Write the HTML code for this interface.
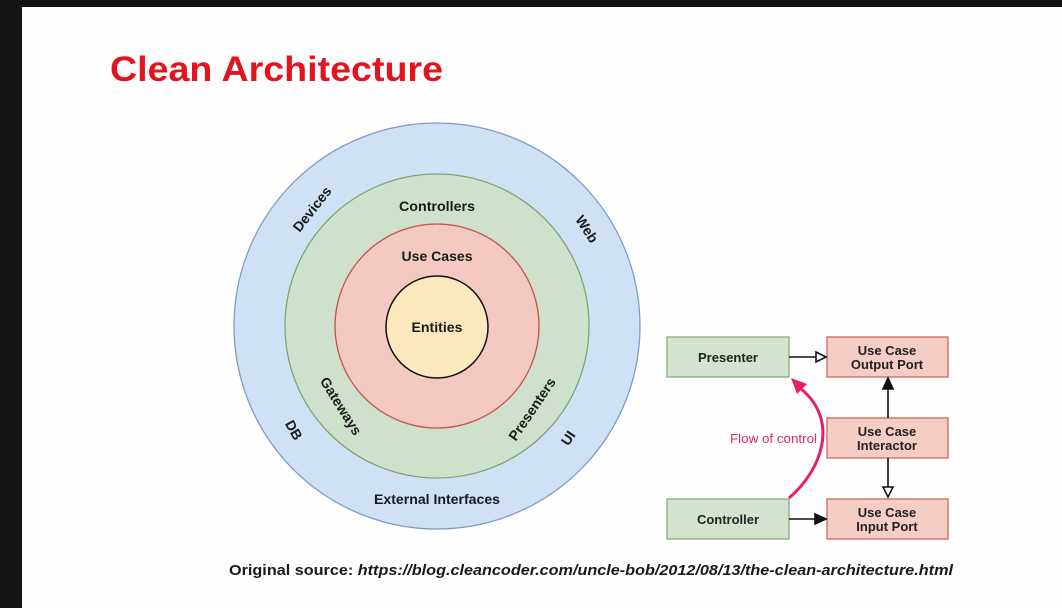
<!DOCTYPE html>
<html><head><meta charset="utf-8"><style>
html,body{margin:0;padding:0;background:#fff;}
svg{display:block;}
text{font-family:"Liberation Sans",Arial,sans-serif;font-weight:bold;}
</style></head><body>
<svg width="1062" height="608" viewBox="0 0 1062 608" xmlns="http://www.w3.org/2000/svg">
<rect x="0" y="0" width="1062" height="608" fill="#fefefe"/>
<rect x="0" y="0" width="1062" height="7" fill="#121212"/>
<rect x="0" y="0" width="22" height="608" fill="#141414"/>
<text x="110" y="81" font-size="35" fill="#e3141e" textLength="333" lengthAdjust="spacingAndGlyphs">Clean Architecture</text>

<circle cx="437" cy="326" r="203" fill="#d0e0f5" stroke="#7e9cc8" stroke-width="1.3"/>
<circle cx="437" cy="326" r="152" fill="#cfe1cc" stroke="#7aa56e" stroke-width="1.3"/>
<circle cx="437" cy="326" r="102" fill="#f3c9c2" stroke="#c0574c" stroke-width="1.3"/>
<circle cx="437" cy="327" r="51" fill="#fbe8bf" stroke="#111" stroke-width="1.5"/>

<g font-size="14" fill="#1a1a1a" text-anchor="middle">
<text x="437" y="211" textLength="76" lengthAdjust="spacingAndGlyphs">Controllers</text>
<text x="437" y="261" textLength="71" lengthAdjust="spacingAndGlyphs">Use Cases</text>
<text x="437" y="332" textLength="51" lengthAdjust="spacingAndGlyphs">Entities</text>
<text x="437" y="504" textLength="126" lengthAdjust="spacingAndGlyphs">External Interfaces</text>
<text transform="translate(312,209) rotate(-52)" x="0" y="5">Devices</text>
<text transform="translate(587,229) rotate(57)" x="0" y="5">Web</text>
<text transform="translate(294,430) rotate(60)" x="0" y="5">DB</text>
<text transform="translate(341,406) rotate(58)" x="0" y="5">Gateways</text>
<text transform="translate(532,409) rotate(-56)" x="0" y="5">Presenters</text>
<text transform="translate(568,438) rotate(-56)" x="0" y="5">UI</text>
</g>

<g stroke-width="1.3">
<rect x="667" y="337" width="122" height="40" fill="#d4e3d0" stroke="#86ad7a"/>
<rect x="827" y="337" width="121" height="40" fill="#f6cdc4" stroke="#c9695c"/>
<rect x="827" y="418" width="121" height="40" fill="#f6cdc4" stroke="#c9695c"/>
<rect x="667" y="499" width="122" height="40" fill="#d4e3d0" stroke="#86ad7a"/>
<rect x="827" y="499" width="121" height="40" fill="#f6cdc4" stroke="#c9695c"/>
</g>
<g font-size="13" fill="#222" text-anchor="middle">
<text x="728" y="362">Presenter</text>
<text x="887" y="355">Use Case</text>
<text x="887" y="369">Output Port</text>
<text x="887" y="436">Use Case</text>
<text x="887" y="450">Interactor</text>
<text x="728" y="524">Controller</text>
<text x="887" y="517">Use Case</text>
<text x="887" y="531">Input Port</text>
</g>
<g stroke="#111" stroke-width="1.6" fill="none">
<line x1="789" y1="357" x2="816" y2="357"/>
<polygon points="816,352 826,357 816,362" fill="#fff"/>
<line x1="888" y1="418" x2="888" y2="389"/>
<polygon points="883,389 888,378 893,389" fill="#111"/>
<line x1="888" y1="458" x2="888" y2="487"/>
<polygon points="883,487 888,497 893,487" fill="#fff"/>
<line x1="789" y1="519" x2="815" y2="519"/>
<polygon points="815,514 826,519 815,524" fill="#111"/>
</g>
<path d="M789,498 C822,470 840,420 800,388" stroke="#ea1c6c" stroke-width="3" fill="none"/>
<polygon points="791,378 807,384 797,394" fill="#ea1c6c"/>
<text x="730" y="443" font-size="13" fill="#e0266d" style="font-weight:normal" textLength="87" lengthAdjust="spacingAndGlyphs">Flow of control</text>

<text x="229" y="575" font-size="15" fill="#1a1a1a" textLength="724" lengthAdjust="spacingAndGlyphs">Original source: <tspan font-style="italic">https://blog.cleancoder.com/uncle-bob/2012/08/13/the-clean-architecture.html</tspan></text>
</svg>
</body></html>
